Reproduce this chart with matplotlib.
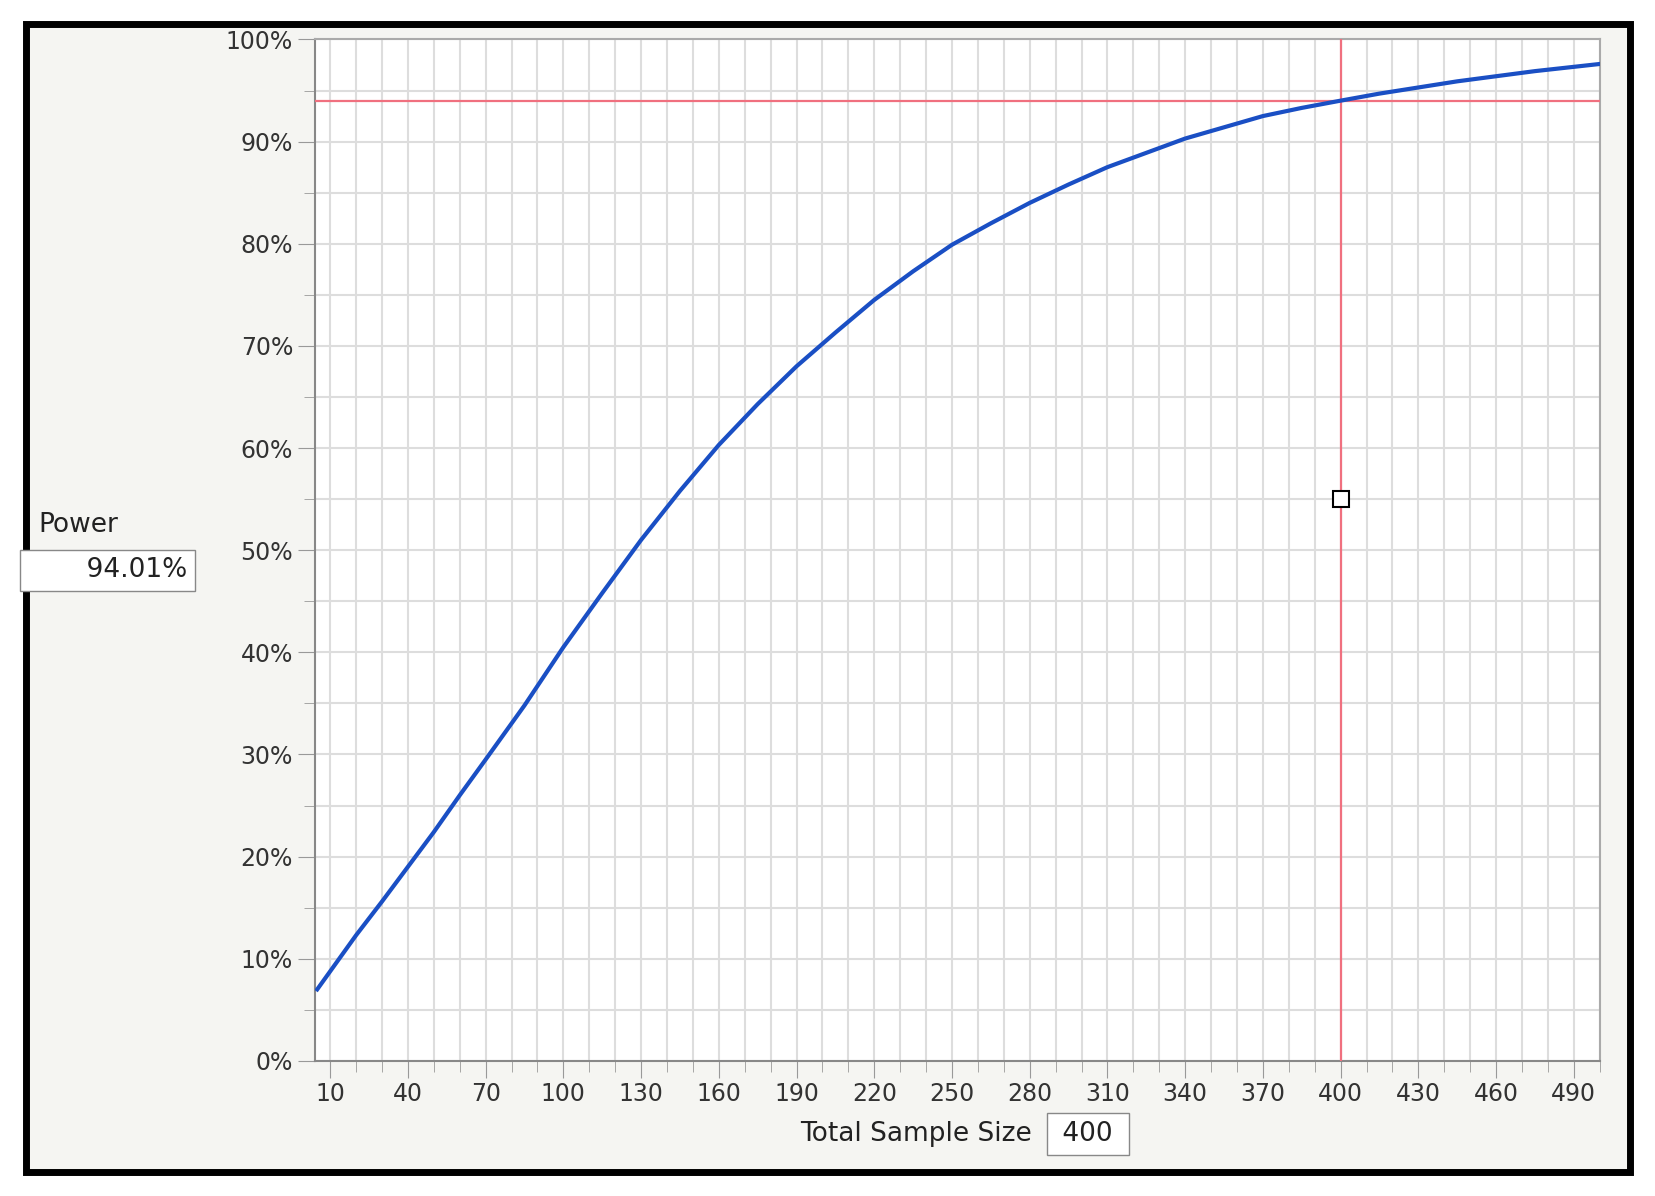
import matplotlib

matplotlib.use("Agg")
import matplotlib.pyplot as plt
from matplotlib.patches import Rectangle
from matplotlib.ticker import FuncFormatter, MultipleLocator

sample_size = [5, 20, 30, 40, 50, 60, 70, 85, 100, 115, 130, 145, 160, 175, 190, 205,
               220, 235, 250, 265, 280, 295, 310, 325, 340, 355, 370, 385, 400,
               415, 430, 445, 460, 475, 500]
power = [7.0, 12.3, 15.6, 19.0, 22.4, 26.0, 29.5, 34.8, 40.5, 45.8, 51.0, 55.8,
         60.3, 64.3, 68.0, 71.3, 74.5, 77.3, 79.9, 82.0, 84.0, 85.8, 87.5, 88.9,
         90.3, 91.4, 92.5, 93.3, 94.01, 94.7, 95.3, 95.9, 96.4, 96.9, 97.6]
x_ticks = list(range(10, 491, 30))
chosen_n = 400
chosen_power = 94.01

fig = plt.figure(figsize=(16.56, 11.96), dpi=100, facecolor="white")
fig.patches.append(Rectangle((0.016, 0.02), 0.968, 0.96, transform=fig.transFigure,
                             facecolor="#f5f5f2", edgecolor="black", linewidth=5,
                             zorder=-1))
ax = fig.add_axes([0.190, 0.113, 0.776, 0.854])
ax.set_facecolor("white")
ax.plot(sample_size, power, color="#1a4fc4", linewidth=3, zorder=4)
ax.axhline(chosen_power, color="#f0707f", linewidth=1.6, zorder=3)
ax.axvline(chosen_n, color="#f0707f", linewidth=1.6, zorder=3)
ax.plot([chosen_n], [55], marker="s", markersize=11, markerfacecolor="white",
        markeredgecolor="black", markeredgewidth=1.5, zorder=5)

ax.set_xlim(4, 500)
ax.set_ylim(0, 100)
ax.set_xticks(x_ticks)
ax.xaxis.set_minor_locator(MultipleLocator(10))
ax.yaxis.set_major_locator(MultipleLocator(10))
ax.yaxis.set_minor_locator(MultipleLocator(5))
ax.yaxis.set_major_formatter(FuncFormatter(lambda v, _: f"{v:.0f}%"))
ax.grid(True, which="both", color="#dddddd", linewidth=1.5, zorder=0)
ax.tick_params(which="both", color="#999999", labelsize=17, labelcolor="#333333")
ax.tick_params(which="major", length=12)
ax.tick_params(which="minor", length=8)
for side, spine in ax.spines.items():
    spine.set_color("#aaaaaa" if side in ("top", "right") else "#888888")
    spine.set_linewidth(1.5)

fig.text(0.023, 0.555, "Power", fontsize=19, color="#222222")
fig.text(0.113, 0.523, f"       {chosen_power:.2f}%", fontsize=19, ha="right",
         va="center", color="#222222",
         bbox=dict(boxstyle="square,pad=0.3", facecolor="white", edgecolor="#888888"))
fig.text(0.553, 0.052, "Total Sample Size", fontsize=19, ha="center", va="center",
         color="#222222")
fig.text(0.657, 0.052, f" {chosen_n} ", fontsize=19, ha="center", va="center",
         color="#222222",
         bbox=dict(boxstyle="square,pad=0.3", facecolor="white", edgecolor="#888888"))

fig.savefig("out.png", dpi=100, facecolor="white")
